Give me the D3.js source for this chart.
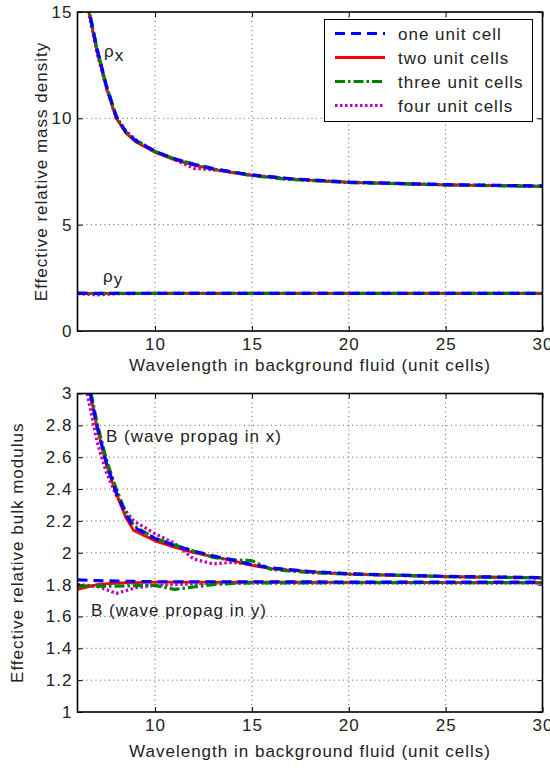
<!DOCTYPE html>
<html>
<head>
<meta charset="utf-8">
<script src="https://cdn.jsdelivr.net/npm/d3@7"></script>
<style>
  body { margin: 0; background: #fff; }
  text { font-family: "Liberation Sans", Arial, sans-serif; fill: #222; letter-spacing: 1px; }
</style>
</head>
<body>
<div id="chart"></div>
<script>
// ---- data ----
const seriesNames = ["one unit cell", "two unit cells", "three unit cells", "four unit cells"];

// top panel: rho_x
const xRhoX = [6.5, 7, 7.5, 8, 8.5, 9, 10, 11, 12, 13, 14, 15, 17, 20, 25, 30];
const rhoXOne = [15.5, 13.3, 11.5, 10.1, 9.35, 8.95, 8.45, 8.1, 7.84, 7.64, 7.47, 7.34, 7.16, 7.0, 6.88, 6.82];
const rhoXTwo = [15.4, 13.2, 11.4, 10.0, 9.3, 8.9, 8.4, 8.06, 7.8, 7.6, 7.45, 7.32, 7.14, 6.99, 6.87, 6.8];
const rhoXThree = [15.5, 13.3, 11.5, 10.1, 9.35, 8.95, 8.44, 8.1, 7.84, 7.62, 7.47, 7.3, 7.12, 6.98, 6.87, 6.8];
const rhoXFour = [15.3, 13.1, 11.4, 10.0, 9.4, 9.0, 8.45, 8.05, 7.65, 7.58, 7.46, 7.33, 7.15, 7.0, 6.88, 6.81];

// top panel: rho_y
const xRhoY = [6, 7, 8, 10, 15, 20, 25, 30];
const rhoYOne = [1.77, 1.77, 1.77, 1.77, 1.77, 1.77, 1.77, 1.77];
const rhoYTwo = [1.77, 1.77, 1.77, 1.77, 1.77, 1.77, 1.77, 1.77];
const rhoYThree = [1.78, 1.76, 1.77, 1.77, 1.77, 1.77, 1.77, 1.77];
const rhoYFour = [1.76, 1.7, 1.75, 1.77, 1.77, 1.77, 1.77, 1.77];

// bottom panel: B (wave propag in x)
const xBx = [6.5, 7, 7.5, 8, 8.5, 8.9, 10, 11, 12, 13, 14, 15, 16, 18, 20, 25, 30];
const bxOne = [3.1, 2.8, 2.56, 2.38, 2.24, 2.16, 2.09, 2.045, 2.01, 1.98, 1.955, 1.925, 1.905, 1.882, 1.868, 1.852, 1.844];
const bxTwo = [3.1, 2.79, 2.55, 2.37, 2.22, 2.14, 2.075, 2.035, 2.0, 1.975, 1.95, 1.92, 1.9, 1.88, 1.866, 1.85, 1.842];
const bxThree = [3.12, 2.82, 2.58, 2.4, 2.25, 2.17, 2.09, 2.05, 2.01, 1.97, 1.955, 1.95, 1.895, 1.875, 1.866, 1.85, 1.842];
const bxFour = [3.0, 2.7, 2.5, 2.36, 2.26, 2.2, 2.12, 2.06, 1.96, 1.93, 1.94, 1.925, 1.9, 1.882, 1.867, 1.85, 1.842];

// bottom panel: B (wave propag in y)
const xBy = [6, 7, 8, 9, 10, 11, 12, 13, 14, 15, 20, 25, 30];
const byOne = [1.83, 1.825, 1.822, 1.82, 1.818, 1.818, 1.818, 1.818, 1.818, 1.818, 1.816, 1.815, 1.815];
const byTwo = [1.77, 1.8, 1.81, 1.813, 1.815, 1.815, 1.815, 1.815, 1.815, 1.815, 1.814, 1.813, 1.812];
const byThree = [1.79, 1.79, 1.79, 1.793, 1.795, 1.77, 1.785, 1.8, 1.808, 1.81, 1.812, 1.813, 1.812];
const byFour = [1.8, 1.79, 1.745, 1.78, 1.795, 1.8, 1.805, 1.81, 1.812, 1.814, 1.814, 1.813, 1.812];

const xTicks = [10, 15, 20, 25, 30];
const topYTicks = [0, 5, 10, 15];
const bottomYTicks = [1, 1.2, 1.4, 1.6, 1.8, 2, 2.2, 2.4, 2.6, 2.8, 3];

// ---- styles per series ----
const styles = [
  { color: "#0000ff", width: 3.2, dash: "10,6" },
  { color: "#ff0000", width: 2.8, dash: null },
  { color: "#008000", width: 3.2, dash: "10,3,2.5,3" },
  { color: "#bf00bf", width: 3.2, dash: "2.5,2.5" }
];
const drawOrder = [3, 1, 2, 0];
const fontSize = 17;

const svg = d3.select("#chart").append("svg")
  .attr("width", 550).attr("height", 769);

const xLabel = "Wavelength in background fluid (unit cells)";

function panel(opts) {
  const x = d3.scaleLinear().domain([6, 30]).range([77.5, 542.5]);
  const y = d3.scaleLinear().domain(opts.yDomain).range(opts.yRange);
  const g = svg.append("g");
  const [x0, x1] = x.range();
  const [y0, y1] = [y.range()[1], y.range()[0]];

  const clipId = "clip" + opts.id;
  svg.append("clipPath").attr("id", clipId)
    .append("rect").attr("x", x0).attr("y", y0).attr("width", x1 - x0).attr("height", y1 - y0);

  // grid
  g.selectAll(".gx").data(xTicks.filter(t => t < 30)).join("line")
    .attr("x1", d => x(d)).attr("x2", d => x(d)).attr("y1", y0).attr("y2", y1)
    .attr("stroke", "#333").attr("stroke-width", 0.8).attr("stroke-dasharray", "1,3.5");
  g.selectAll(".gy").data(opts.yTicks.slice(1, -1)).join("line")
    .attr("x1", x0).attr("x2", x1).attr("y1", d => y(d)).attr("y2", d => y(d))
    .attr("stroke", "#333").attr("stroke-width", 0.8).attr("stroke-dasharray", "1,3.5");

  // curves
  const line = d3.line().x(d => x(d[0])).y(d => y(d[1]));
  const curves = g.append("g").attr("clip-path", `url(#${clipId})`);
  opts.groups.forEach(grp => {
    drawOrder.forEach(i => {
      const pts = grp.x.map((xv, k) => [xv, grp.ys[i][k]]);
      curves.append("path").attr("d", line(pts))
        .attr("fill", "none")
        .attr("stroke", styles[i].color)
        .attr("stroke-width", styles[i].width)
        .attr("stroke-dasharray", styles[i].dash)
        .attr("stroke-linejoin", "round");
    });
  });

  // axes with inward ticks, mirrored on top/right
  g.append("g").attr("transform", `translate(0,${y1})`)
    .call(d3.axisBottom(x).tickValues(xTicks).tickSize(-5).tickPadding(7).tickSizeOuter(0));
  g.append("g").attr("transform", `translate(0,${y0})`)
    .call(d3.axisTop(x).tickValues(xTicks).tickSize(-5).tickFormat("").tickSizeOuter(0));
  g.append("g").attr("transform", `translate(${x0},0)`)
    .call(d3.axisLeft(y).tickValues(opts.yTicks).tickSize(-5).tickPadding(5).tickSizeOuter(0).tickFormat(d3.format("")));
  g.append("g").attr("transform", `translate(${x1},0)`)
    .call(d3.axisRight(y).tickValues(opts.yTicks).tickSize(-5).tickFormat("").tickSizeOuter(0));
  g.selectAll(".domain").remove();
  g.selectAll(".tick line").attr("stroke", "#000");
  g.selectAll(".tick text").attr("font-size", fontSize).attr("fill", "#222")
    .attr("font-family", "Liberation Sans, Arial, sans-serif");

  g.append("rect").attr("x", x0).attr("y", y0).attr("width", x1 - x0).attr("height", y1 - y0)
    .attr("fill", "none").attr("stroke", "#000").attr("stroke-width", 1.6);

  g.append("text").attr("x", (x0 + x1) / 2).attr("y", opts.xLabelY)
    .attr("text-anchor", "middle").attr("font-size", fontSize).text(xLabel);
  g.append("text").attr("transform", `translate(${opts.yLabelX},${(y0 + y1) / 2}) rotate(-90)`)
    .attr("text-anchor", "middle").attr("font-size", fontSize).text(opts.yLabel);

  return { g, x, y };
}

const topPanel = panel({
  id: "top", yDomain: [0, 15], yRange: [331, 12], yTicks: topYTicks,
  yLabel: "Effective relative mass density", yLabelX: 46.5, xLabelY: 371,
  groups: [
    { x: xRhoX, ys: [rhoXOne, rhoXTwo, rhoXThree, rhoXFour] },
    { x: xRhoY, ys: [rhoYOne, rhoYTwo, rhoYThree, rhoYFour] }
  ]
});

const bottomPanel = panel({
  id: "bot", yDomain: [1, 3], yRange: [712, 393.5], yTicks: bottomYTicks,
  yLabel: "Effective relative bulk modulus", yLabelX: 23, xLabelY: 757,
  groups: [
    { x: xBx, ys: [bxOne, bxTwo, bxThree, bxFour] },
    { x: xBy, ys: [byOne, byTwo, byThree, byFour] }
  ]
});

// annotations
const rx = topPanel.g.append("text").attr("x", 104).attr("y", 57).attr("font-size", fontSize);
rx.append("tspan").text("ρ");
rx.append("tspan").attr("dy", 4).text("x");
const ry = topPanel.g.append("text").attr("x", 103).attr("y", 282).attr("font-size", fontSize);
ry.append("tspan").text("ρ");
ry.append("tspan").attr("dy", 3).text("y");
bottomPanel.g.append("text").attr("x", 106).attr("y", 442).attr("font-size", fontSize).text("B (wave propag in x)");
bottomPanel.g.append("text").attr("x", 91).attr("y", 616).attr("font-size", fontSize).text("B (wave propag in y)");

// legend
const leg = svg.append("g");
leg.append("rect").attr("x", 324.5).attr("y", 19.5).attr("width", 208).attr("height", 102)
  .attr("fill", "#fff").attr("stroke", "#000").attr("stroke-width", 1);
seriesNames.forEach((name, i) => {
  const yy = 33.5 + i * 24;
  leg.append("line").attr("x1", 335).attr("x2", 385).attr("y1", yy).attr("y2", yy)
    .attr("stroke", styles[i].color).attr("stroke-width", styles[i].width)
    .attr("stroke-dasharray", styles[i].dash);
  leg.append("text").attr("x", 398).attr("y", yy + 6).attr("font-size", fontSize).text(name);
});
</script>
</body>
</html>
